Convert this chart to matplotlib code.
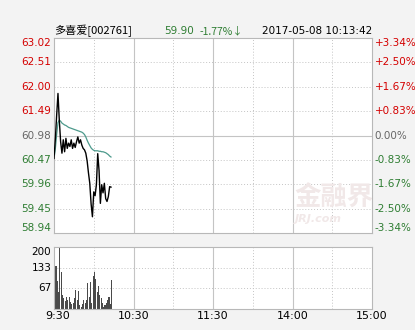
import numpy as np
import matplotlib.pyplot as plt

plt.rcParams['font.family'] = ['DejaVu Sans', 'Noto Sans CJK SC']

# minute-by-minute intraday data, 9:30 -> 10:13
price = [60.50, 60.90, 61.40, 61.86, 61.30, 60.85, 60.61, 60.89, 60.64, 60.92,
         60.71, 60.82, 60.75, 60.89, 60.71, 60.82, 60.73, 60.85, 60.95, 60.82,
         60.89, 60.78, 60.71, 60.68, 60.61, 60.45, 60.20, 59.98, 59.55, 59.28,
         59.80, 59.72, 59.95, 60.60, 60.25, 59.56, 59.95, 59.78, 59.98, 59.66,
         59.60, 59.70, 59.91, 59.90]
avg_price = [60.50, 60.70, 61.00, 61.25, 61.30, 61.28, 61.24, 61.22, 61.20, 61.19,
             61.17, 61.15, 61.14, 61.13, 61.12, 61.11, 61.10, 61.09, 61.08, 61.07,
             61.06, 61.05, 61.03, 61.00, 60.95, 60.88, 60.82, 60.77, 60.72, 60.69,
             60.67, 60.66, 60.66, 60.66, 60.65, 60.65, 60.64, 60.64, 60.63, 60.62,
             60.60, 60.58, 60.55, 60.53]
volume = [195, 140, 90, 55, 200, 120, 45, 35, 25, 40,
          30, 38, 22, 15, 20, 35, 62, 30, 58, 12,
          8, 15, 28, 18, 30, 85, 40, 88, 20, 105,
          120, 98, 55, 75, 45, 35, 18, 8, 12, 20,
          30, 38, 15, 95]
minutes = np.arange(len(price))

prev_close = 60.98
price_ticks = [63.02, 62.51, 62.00, 61.49, 60.98, 60.47, 59.96, 59.45, 58.94]
pct_labels = ['+3.34%', '+2.50%', '+1.67%', '+0.83%', '0.00%',
              '-0.83%', '-1.67%', '-2.50%', '-3.34%']
vol_ticks = [67, 133, 200]
time_pos = [0, 60, 120, 180, 240]
time_labels = ['9:30', '10:30', '11:30', '14:00', '15:00']

red = '#d40000'
green = '#2e7d32'
grey = '#666666'
grid_c = '#c4c4c4'

fig = plt.figure(figsize=(4.15, 3.3), dpi=100, facecolor='#f3f3f3')
ax = fig.add_axes([54/415, 1-233/330, 318/415, 195/330])
axv = fig.add_axes([54/415, 1-309/330, 318/415, 62/330])

for a in (ax, axv):
    a.set_facecolor('white')
    a.set_xlim(0, 240)
    a.set_xticks([])
    a.set_yticks([])
    for s in a.spines.values():
        s.set_color('#b8b8b8')
        s.set_linewidth(0.8)
    for m in (30, 90, 150, 210):
        a.axvline(m, color=grid_c, lw=0.7, ls=(0, (1, 2)), zorder=0)
    for m in (60, 120, 180):
        a.axvline(m, color=grid_c, lw=0.8, zorder=0)

ax.set_ylim(price_ticks[-1], price_ticks[0])
for p, lab in zip(price_ticks, pct_labels):
    if p == prev_close:
        ax.axhline(p, color=grid_c, lw=0.8, zorder=0)
        c = grey
    else:
        ax.axhline(p, color=grid_c, lw=0.7, ls=(0, (1, 2)), zorder=0)
        c = red if p > prev_close else green
    va = 'top' if p == price_ticks[0] else ('bottom' if p == price_ticks[-1] else 'center')
    ax.text(-2, p, f'{p:.2f}', color=c, ha='right', va=va, fontsize=7.5)
    ax.text(242, p, lab, color=c, ha='left', va=va, fontsize=7.5)

# watermark
ax.text(0.88, 0.18, '金融界', transform=ax.transAxes, fontsize=19, color='#f1e8e8',
        ha='center', va='center', family=['Noto Sans CJK SC'], fontweight='bold', zorder=0)
ax.text(0.83, 0.07, 'JRJ.com', transform=ax.transAxes, fontsize=8, color='#f1e8e8',
        ha='center', va='center', style='italic', fontweight='bold', zorder=0)

ax.plot(minutes, avg_price, color='#4d9a8c', lw=0.9, zorder=2)
ax.plot(minutes, price, color='black', lw=1.0, zorder=3)

axv.set_ylim(0, 200)
for v in vol_ticks[:2]:
    axv.axhline(v, color=grid_c, lw=0.7, ls=(0, (1, 2)), zorder=0)
for v in vol_ticks:
    axv.text(-2, v, str(v), color='black', ha='right',
             va='top' if v == 200 else 'center', fontsize=7.5)
axv.bar(minutes + 0.5, volume, width=0.8, color='#4a4a4a', zorder=2)
for m, lab in zip(time_pos, time_labels):
    axv.text(m + (3 if m == 0 else 0), -8, lab, ha='center', va='top', fontsize=8)

# header line
cjk = ['Noto Sans CJK SC', 'DejaVu Sans']
fig.text(54/415, 1-31/330, '多喜爱[002761]', fontsize=8, va='center', family=cjk)
fig.text(164/415, 1-31/330, '59.90', fontsize=7.5, va='center', color=green)
fig.text(200/415, 1-31/330, '-1.77%↓', fontsize=7.5, va='center', color=green, family=cjk)
fig.text(262/415, 1-31/330, '2017-05-08 10:13:42', fontsize=7.5, va='center')

fig.savefig('out.png', dpi=100, facecolor=fig.get_facecolor())
